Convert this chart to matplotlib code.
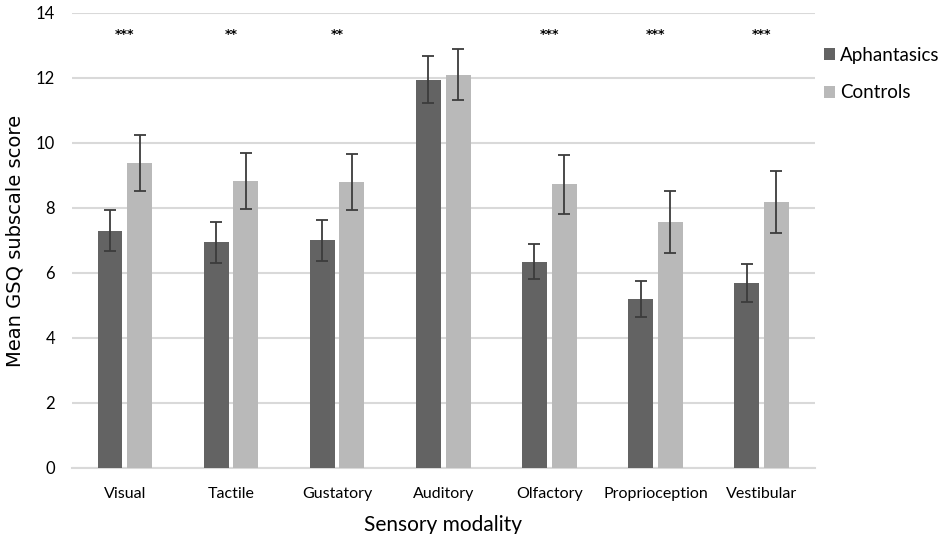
import numpy as np
import matplotlib.pyplot as plt

# values
modalities = ["Visual", "Tactile", "Gustatory", "Auditory", "Olfactory",
              "Proprioception", "Vestibular"]
aphant_mean = [7.3, 6.95, 7.0, 11.95, 6.35, 5.2, 5.7]
aphant_err = [0.63, 0.63, 0.62, 0.73, 0.55, 0.55, 0.58]
control_mean = [9.38, 8.83, 8.8, 12.1, 8.73, 7.57, 8.18]
control_err = [0.87, 0.85, 0.85, 0.78, 0.9, 0.96, 0.95]
stars = ["***", "**", "**", "", "***", "***", "***"]

plt.rcParams['font.family'] = ['Lato', 'DejaVu Sans']

fig = plt.figure(figsize=(9.45, 5.34), dpi=100)
ax = fig.add_axes([0.076, 0.1236, 0.786, 0.8521])

x = np.arange(len(modalities))
w = 0.235
errkw = dict(ecolor='#3c3c3c', elinewidth=1.3, capsize=4, capthick=1.3)
ax.bar(x - 0.14, aphant_mean, w, yerr=aphant_err, color='#636363',
       error_kw=errkw, label='Aphantasics', zorder=3)
ax.bar(x + 0.14, control_mean, w, yerr=control_err, color='#b9b9b9',
       error_kw=errkw, label='Controls', zorder=3)

for xi, s in zip(x, stars):
    if s:
        ax.text(xi, 13.35, s, ha='center', va='center', fontsize=9,
                fontweight='bold', family=['DejaVu Sans'])

ax.set_ylim(0, 14)
ax.set_xlim(-0.5, len(modalities) - 0.5)
ax.set_yticks(range(0, 15, 2))
ax.yaxis.grid(True, color='#d9d9d9', linewidth=1.5, zorder=0)
ax.set_axisbelow(True)
for sp in ['top', 'right', 'left']:
    ax.spines[sp].set_visible(False)
ax.spines['bottom'].set_color('#d9d9d9')
ax.spines['bottom'].set_linewidth(1.5)
ax.tick_params(length=0, labelsize=12)
ax.tick_params(axis='x', pad=14, labelsize=11.5)
ax.tick_params(axis='y', pad=12)
ax.set_xticks(x)
ax.set_xticklabels(modalities)

ax.set_ylabel("Mean GSQ subscale score", fontsize=14,
              family=['DejaVu Sans'], labelpad=8)
ax.set_xlabel("Sensory modality", fontsize=15, labelpad=10)

ax.legend(loc='upper left', bbox_to_anchor=(0.995, 0.955), frameon=False,
          fontsize=13.5, handlelength=0.6, handleheight=0.6, handletextpad=0.25,
          labelspacing=1.1, borderaxespad=0.3)

fig.savefig("out.png", dpi=100)
